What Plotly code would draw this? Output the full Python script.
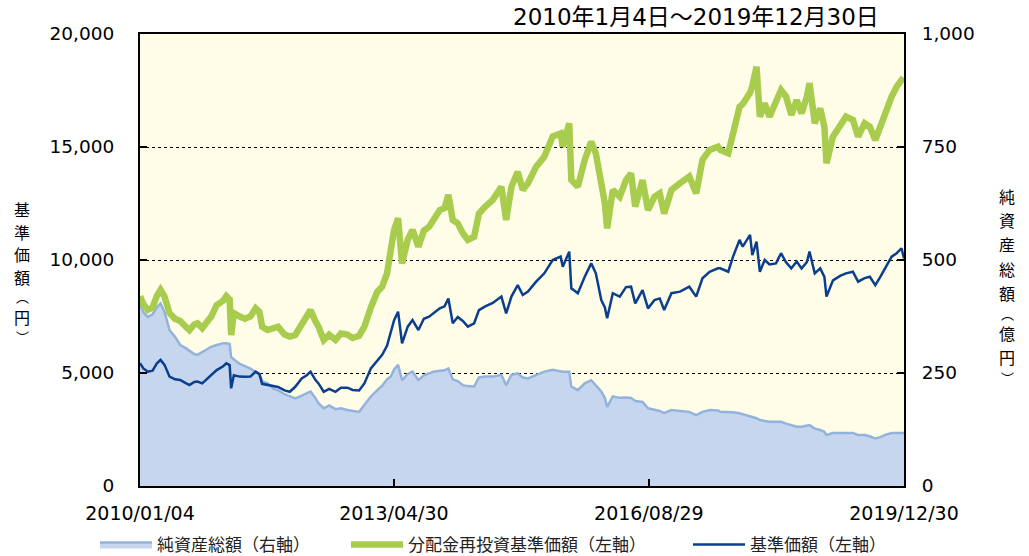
import plotly.graph_objects as go

dates = [
    "2010-01-04", "2010-01-20", "2010-02-10", "2010-03-05", "2010-03-25", "2010-04-12", "2010-05-01", "2010-05-25",
    "2010-06-20", "2010-07-15", "2010-08-10", "2010-08-28", "2010-09-20", "2010-10-05", "2010-10-28", "2010-11-20",
    "2010-12-10", "2011-01-05", "2011-02-05", "2011-02-20", "2011-03-08", "2011-03-15", "2011-03-28", "2011-04-25",
    "2011-05-20", "2011-06-15", "2011-07-10", "2011-07-28", "2011-08-10", "2011-09-05", "2011-10-05", "2011-10-25",
    "2011-11-25", "2011-12-20", "2012-01-15", "2012-02-15", "2012-03-10", "2012-03-28", "2012-04-20", "2012-05-05",
    "2012-05-30", "2012-06-25", "2012-07-25", "2012-08-20", "2012-09-20", "2012-10-15", "2012-11-15", "2012-12-10",
    "2013-01-10", "2013-02-10", "2013-03-05", "2013-03-28", "2013-04-15", "2013-05-01", "2013-05-20", "2013-06-08",
    "2013-07-05", "2013-07-28", "2013-08-25", "2013-09-20", "2013-10-15", "2013-11-05", "2013-12-05", "2013-12-28",
    "2014-01-15", "2014-02-05", "2014-03-01", "2014-03-25", "2014-04-18", "2014-05-18", "2014-06-10", "2014-07-10",
    "2014-08-15", "2014-09-25", "2014-10-18", "2014-11-12", "2014-12-12", "2015-01-05", "2015-01-30", "2015-03-10",
    "2015-04-18", "2015-05-28", "2015-07-05", "2015-07-15", "2015-08-15", "2015-08-25", "2015-09-25", "2015-10-28",
    "2015-11-28", "2015-12-20", "2016-01-15", "2016-02-01", "2016-02-12", "2016-03-10", "2016-04-12", "2016-05-12",
    "2016-06-05", "2016-06-25", "2016-07-30", "2016-08-25", "2016-09-25", "2016-10-20", "2016-11-10", "2016-12-15",
    "2017-01-25", "2017-03-10", "2017-04-12", "2017-05-12", "2017-06-15", "2017-07-25", "2017-08-05", "2017-09-12",
    "2017-10-05", "2017-11-05", "2017-11-20", "2017-12-25", "2018-01-05", "2018-01-25", "2018-02-10", "2018-03-05",
    "2018-03-28", "2018-04-28", "2018-05-22", "2018-06-15", "2018-07-10", "2018-08-05", "2018-08-28", "2018-09-22",
    "2018-10-05", "2018-10-30", "2018-11-25", "2018-12-15", "2018-12-25", "2019-01-25", "2019-02-28", "2019-03-28",
    "2019-04-30", "2019-05-25", "2019-06-25", "2019-07-20", "2019-08-15", "2019-09-08", "2019-10-01", "2019-11-01",
    "2019-11-25", "2019-12-18", "2019-12-30",
]

# 分配金再投資基準価額（円, 左軸）
reinvested_nav = [
    8400, 8050, 7790, 7900, 8400, 8680, 8380, 7650,
    7400, 7300, 7050, 6900, 7150, 7200, 6990, 7300,
    7500, 8000, 8200, 8400, 8250, 6680, 7650, 7500,
    7400, 7500, 7860, 7700, 7050, 6900, 6950, 7050,
    6700, 6610, 6680, 7200, 7500, 7790, 7300, 7050,
    6460, 6700, 6460, 6750, 6700, 6550, 6650, 7050,
    7900, 8600, 8820, 9400, 10440, 11330, 11850, 9850,
    10900, 11330, 10590, 11300, 11470, 11770, 12210, 12300,
    12880, 11770, 11620, 11180, 10890, 11030, 12060, 12360,
    12660, 13240, 11770, 13240, 13900, 13100, 13400, 14130,
    14570, 15460, 15600, 15020, 16050, 13540, 13240, 14430,
    15240, 14720, 13400, 12510, 11400, 13100, 12800, 13540,
    13830, 12360, 13540, 12210, 12800, 12950, 12060, 13100,
    13400, 13690, 12950, 14430, 14870, 15010, 14870, 14720,
    15600, 16780, 16900, 17400, 17700, 18550, 16340, 16930,
    16340, 16930, 17520, 17230, 16420, 17080, 16490, 17230,
    17820, 16050, 16710, 15900, 14280, 15460, 15900, 16340,
    16200, 15460, 16050, 15900, 15310, 15900, 16640, 17230,
    17670, 17960, 17890,
]

# 基準価額（円, 左軸）
nav = [
    5430, 5200, 5060, 5100, 5420, 5580, 5360, 4840,
    4720, 4690, 4550, 4470, 4600, 4620, 4540, 4750,
    4910, 5130, 5300, 5430, 5350, 4320, 4900, 4840,
    4830, 4840, 5060, 4950, 4520, 4470, 4420, 4380,
    4230, 4170, 4390, 4760, 4900, 5060, 4700, 4540,
    4170, 4300, 4170, 4350, 4350, 4250, 4230, 4540,
    5200, 5570, 5800, 6200, 6750, 7340, 7710, 6310,
    7050, 7340, 6900, 7400, 7490, 7640, 7860, 7950,
    8300, 7200, 7480, 7300, 7050, 7200, 7780, 7950,
    8100, 8380, 7640, 8380, 8890, 8450, 8600, 9040,
    9410, 10000, 10150, 9700, 10370, 8750, 8530, 9260,
    9850, 9410, 8230, 7900, 7420, 8530, 8380, 8800,
    8820, 8080, 8670, 7860, 8230, 8300, 7790, 8530,
    8600, 8820, 8380, 9190, 9480, 9630, 9630, 9480,
    10150, 10890, 10590, 11110, 10220, 10810, 9480, 10000,
    9800, 9850, 10300, 9900, 9630, 9930, 9630, 9900,
    10370, 9410, 9630, 9250, 8380, 9100, 9300, 9410,
    9480, 9040, 9200, 9260, 8890, 9250, 9630, 10150,
    10300, 10520, 10070,
]

# 純資産総額（億円, 右軸）
net_assets = [
    405, 385, 374, 380, 395, 404, 385, 345,
    330, 312, 305, 300, 292, 290, 296, 302,
    308, 312, 316, 316, 314, 285, 280, 270,
    265, 260, 252, 248, 232, 227, 215, 212,
    203, 198, 194, 200, 206, 209, 195, 183,
    172, 178, 170, 172, 168, 166, 164, 179,
    198, 212, 222, 236, 242, 258, 268, 234,
    248, 253, 234, 245, 249, 253, 255, 256,
    260, 236, 232, 223, 221, 220, 240, 242,
    242, 246, 223, 246, 249, 240, 238, 246,
    253, 257, 253, 253, 253, 220, 212, 227,
    234, 223, 209, 195, 175, 198, 195, 196,
    195, 188, 186, 172, 168, 166, 161, 168,
    166, 164, 157, 164, 168, 167, 164, 164,
    163, 161, 159, 155, 153, 150, 146, 144,
    142, 142, 142, 138, 135, 131, 131, 133,
    135, 127, 124, 120, 113, 117, 117, 117,
    117, 113, 113, 110, 105, 108, 113, 117,
    117, 117, 117,
]

x_tickvals = ["2010-01-04", "2013-04-30", "2016-08-29", "2019-12-30"]
x_ticktext = ["2010/01/04", "2013/04/30", "2016/08/29", "2019/12/30"]
left_tickvals = [0, 5000, 10000, 15000, 20000]
right_tickvals = [0, 250, 500, 750, 1000]

title_text = "2010年1月4日～2019年12月30日"
left_title_chars = ["基", "準", "価", "額", "︵", "円", "︶"]
right_title_chars = ["純", "資", "産", "総", "額", "︵", "億", "円", "︶"]

JP = "Noto Sans CJK JP"
NUM = "DejaVu Sans"

# ---- layout geometry (page pixels) ----
W, H = 1029, 556
PL, PR, PT, PB = 140, 904, 34, 486   # plot area


def px(xw):
    return (xw - PL) / (PR - PL)


def py(yw):
    return (PB - yw) / (PB - PT)


fig = go.Figure()
fig.add_trace(go.Scatter(
    x=dates, y=net_assets, name="純資産総額（右軸）", yaxis="y", legend="legend",
    mode="lines", fill="tozeroy", fillcolor="#C5D6EE",
    line=dict(color="#94B3DC", width=2.5),
))
fig.add_trace(go.Scatter(
    x=dates, y=reinvested_nav, name="分配金再投資基準価額（左軸）", yaxis="y2", legend="legend2",
    mode="lines", line=dict(color="#A8CD4E", width=6.5),
))
fig.add_trace(go.Scatter(
    x=dates, y=nav, name="基準価額（左軸）", yaxis="y2", legend="legend3",
    mode="lines", line=dict(color="#0B3F8E", width=2.5),
))

legend_common = dict(
    orientation="h", xanchor="left", yanchor="middle", y=py(545),
    font=dict(family=JP, size=17, color="#222"),
    itemwidth=52, bgcolor="rgba(0,0,0,0)", borderwidth=0,
)

annotations = [
    dict(text=title_text, xref="paper", yref="paper", x=px(881), y=py(17), xanchor="right", yanchor="middle",
         showarrow=False, font=dict(family=NUM + ", " + JP, size=23, color="black")),
]


def vertical_title(chars, ys, xw):
    for ch, yy in zip(chars, ys):
        is_paren = ch in ("︵", "︶")
        annotations.append(dict(text=ch, xref="paper", yref="paper", x=px(xw), y=py(yy),
                                xanchor="center", yanchor="middle", showarrow=False,
                                font=dict(family=JP, size=13 if is_paren else 16, color="black")))


vertical_title(left_title_chars, [209, 231.5, 254, 276.5, 296.5, 316.5, 336.5], 22)
vertical_title(right_title_chars, [196, 220, 244, 268.5, 293, 313, 333, 357, 377], 1007)

fig.update_layout(
    width=W, height=H,
    margin=dict(l=PL, r=W - PR, t=PT, b=H - PB, autoexpand=False),
    paper_bgcolor="white",
    plot_bgcolor="#FFFDE8",
    showlegend=True,
    legend=dict(legend_common, x=px(95)),
    legend2=dict(legend_common, x=px(346)),
    legend3=dict(legend_common, x=px(688)),
    xaxis=dict(
        type="date", range=["2010-01-04", "2019-12-30"],
        tickvals=x_tickvals, ticktext=x_ticktext,
        ticks="inside", ticklen=7, tickwidth=2, tickcolor="black",
        showline=True, linewidth=2, linecolor="black", mirror=True,
        showgrid=False, zeroline=False,
        tickfont=dict(family=NUM, size=19, color="black"),
        ticklabelstandoff=9,
    ),
    yaxis=dict(
        side="right", range=[0, 1000], tickvals=right_tickvals, tickformat=",",
        ticks="inside", ticklen=7, tickwidth=2, tickcolor="black",
        showline=True, linewidth=2, linecolor="black",
        showgrid=True, gridcolor="black", griddash="dot", gridwidth=1,
        zeroline=False,
        tickfont=dict(family=NUM, size=18.5, color="black"),
        ticklabelstandoff=12,
    ),
    yaxis2=dict(
        side="left", overlaying="y", range=[0, 20000], tickvals=left_tickvals, tickformat=",",
        ticks="inside", ticklen=7, tickwidth=2, tickcolor="black",
        showline=True, linewidth=2, linecolor="black",
        showgrid=False, zeroline=False,
        tickfont=dict(family=NUM, size=18.5, color="black"),
        ticklabelstandoff=20,
    ),
    annotations=annotations,
)

fig.write_html(
    "out.html",
    config={"displayModeBar": False},
    post_script="document.body.style.margin='0';document.body.style.overflow='hidden';",
)
